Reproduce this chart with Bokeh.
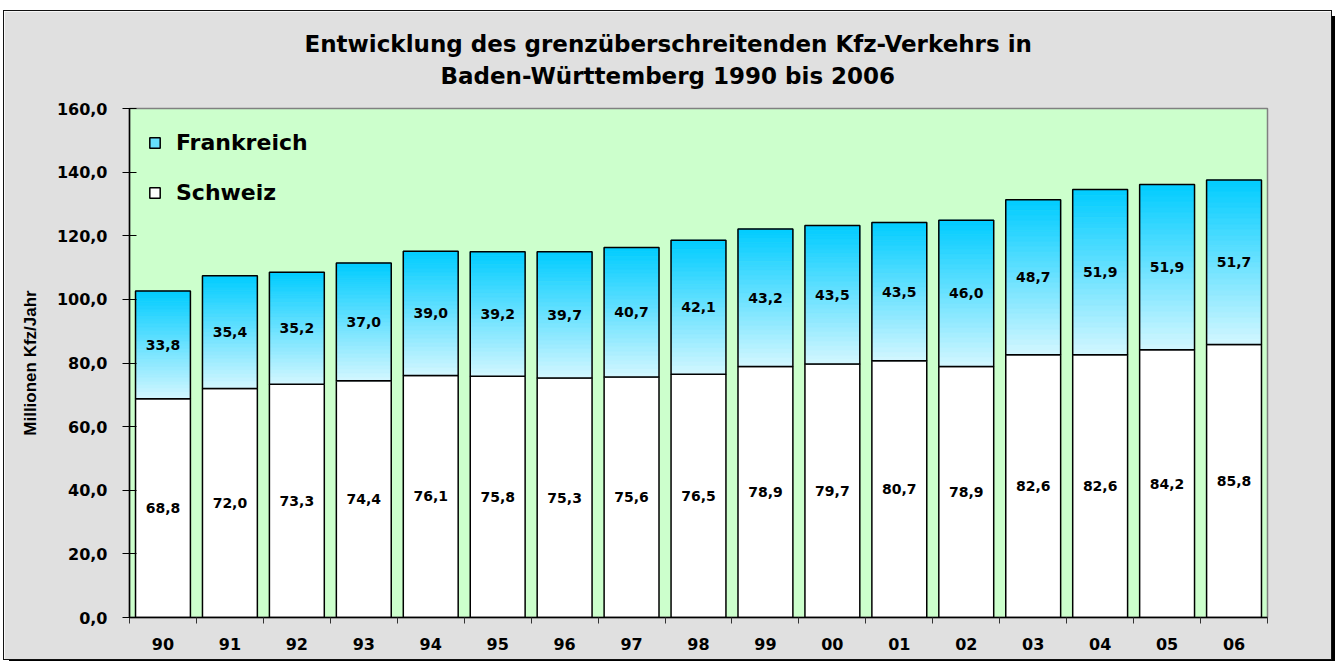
import numpy as np
from bokeh.plotting import figure
from bokeh.models import (ColumnDataSource, FixedTicker, Legend, LegendItem,
                          Title, Range1d)
from bokeh.core.properties import value
from bokeh.embed import file_html
from bokeh.resources import INLINE

# ---------------- data ----------------
years = ["90", "91", "92", "93", "94", "95", "96", "97", "98", "99",
         "00", "01", "02", "03", "04", "05", "06"]
schweiz = [68.8, 72.0, 73.3, 74.4, 76.1, 75.8, 75.3, 75.6, 76.5, 78.9,
           79.7, 80.7, 78.9, 82.6, 82.6, 84.2, 85.8]
frankreich = [33.8, 35.4, 35.2, 37.0, 39.0, 39.2, 39.7, 40.7, 42.1, 43.2,
              43.5, 43.5, 46.0, 48.7, 51.9, 51.9, 51.7]
y_ticks = [0, 20, 40, 60, 80, 100, 120, 140, 160]
y_tick_labels = ["0,0", "20,0", "40,0", "60,0", "80,0", "100,0",
                 "120,0", "140,0", "160,0"]
series_names = ["Frankreich", "Schweiz"]
title_lines = ["Entwicklung des grenzüberschreitenden Kfz-Verkehrs in",
               "Baden-Württemberg 1990 bis 2006"]
y_axis_label = "Millionen Kfz/Jahr"

# ---------------- styling ----------------
SPACED = "DejaVu Sans"
PLAIN = "Liberation Sans"
BAR_W = 0.82
TOP_C = np.array([0x00, 0xCC, 0xFF], dtype=float)
BOT_C = np.array([0xD4, 0xF7, 0xFF], dtype=float)
N_STRIPS = 30


def fmt(v):
    return f"{v:.1f}".replace(".", ",")


n = len(years)
xs = np.arange(n, dtype=float)
s = np.array(schweiz)
f = np.array(frankreich)

p = figure(frame_width=1138, frame_height=509,
           x_range=Range1d(-0.5, n - 0.5), y_range=Range1d(0, 160),
           output_backend="svg", toolbar_location=None,
           min_border_left=125, min_border_right=64,
           min_border_top=97, min_border_bottom=42,
           background_fill_color="#CCFFCC", border_fill_color="#E0E0E0")
p.title.visible = False
p.styles = {"margin": "11px 0 0 4px",
            "outline": "1.5px solid #111111",
            "box-shadow": "5px 5px 0 #000000"}

p.xgrid.visible = False
p.ygrid.visible = False
p.outline_line_color = "#808080"
p.outline_line_width = 1.5

# Schweiz bars (white)
src_s = ColumnDataSource(dict(left=xs - BAR_W / 2, right=xs + BAR_W / 2,
                              bottom=np.zeros(n), top=s))
r_s = p.quad(left="left", right="right", bottom="bottom", top="top",
             source=src_s, fill_color="white", line_color="black",
             line_width=1.5)

# Frankreich bars: vertical gradient built from thin strips
L, R, B, T, C = [], [], [], [], []
for i in range(n):
    for j in range(N_STRIPS):
        t = (j + 0.5) / N_STRIPS
        c = BOT_C + (TOP_C - BOT_C) * t
        L.append(xs[i] - BAR_W / 2)
        R.append(xs[i] + BAR_W / 2)
        B.append(s[i] + f[i] * j / N_STRIPS)
        T.append(s[i] + f[i] * (j + 1) / N_STRIPS)
        C.append("#%02x%02x%02x" % tuple(int(round(v)) for v in c))
src_g = ColumnDataSource(dict(left=L, right=R, bottom=B, top=T, color=C))
r_g = p.quad(left="left", right="right", bottom="bottom", top="top",
             source=src_g, fill_color="color", line_color="color",
             line_width=0.8)
src_f = ColumnDataSource(dict(left=xs - BAR_W / 2, right=xs + BAR_W / 2,
                              bottom=s, top=s + f))
r_f = p.quad(left="left", right="right", bottom="bottom", top="top",
             source=src_f, fill_color=None, line_color="black",
             line_width=1.5)

# value labels
lab_src = ColumnDataSource(dict(
    x=np.concatenate([xs, xs]),
    y=np.concatenate([s / 2, s + f / 2]),
    text=[fmt(v) for v in schweiz] + [fmt(v) for v in frankreich]))
p.text(x="x", y="y", text="text", source=lab_src, text_align="center",
       text_baseline="middle", text_font=value(SPACED),
       text_font_size="14px", text_font_style="bold", text_color="black")

# axes
p.xaxis.ticker = FixedTicker(ticks=list(xs),
                             minor_ticks=list(np.arange(n + 1) - 0.5))
p.xaxis.major_label_overrides = {int(i): years[int(i)] for i in xs}
p.xaxis.major_tick_in = 0
p.xaxis.major_tick_out = 0
p.xaxis.minor_tick_in = 0
p.xaxis.minor_tick_out = 6
p.xaxis.minor_tick_line_color = "#333333"
p.xaxis.major_label_standoff = 14
p.xaxis.major_label_text_font = SPACED
p.xaxis.major_label_text_font_size = "16px"
p.xaxis.major_label_text_font_style = "bold"
p.xaxis.major_label_text_color = "black"
p.xaxis.axis_line_color = "black"
p.xaxis.axis_line_width = 1.5

p.yaxis.ticker = FixedTicker(ticks=y_ticks, minor_ticks=[])
p.yaxis.major_label_overrides = dict(zip(y_ticks, y_tick_labels))
p.yaxis.major_tick_in = 7
p.yaxis.major_tick_out = 7
p.yaxis.major_tick_line_color = "black"
p.yaxis.minor_tick_line_color = None
p.yaxis.major_label_standoff = 15
p.yaxis.major_label_text_font = SPACED
p.yaxis.major_label_text_font_size = "16px"
p.yaxis.major_label_text_font_style = "bold"
p.yaxis.major_label_text_color = "black"
p.yaxis.axis_line_color = "black"
p.yaxis.axis_line_width = 1.5
p.yaxis.axis_label = y_axis_label
p.yaxis.axis_label_standoff = 14
p.yaxis.axis_label_text_font = PLAIN
p.yaxis.axis_label_text_font_size = "17px"
p.yaxis.axis_label_text_font_style = "bold"
p.yaxis.axis_label_text_color = "black"

# legend
legend = Legend(items=[
    LegendItem(label=series_names[0], renderers=[r_g, r_f], index=15),
    LegendItem(label=series_names[1], renderers=[r_s], index=0)],
    location="top_left", margin=0, padding=19, spacing=20,
    glyph_width=13, glyph_height=13, label_height=30, label_standoff=15,
    border_line_alpha=0, background_fill_alpha=0,
    label_text_font=SPACED, label_text_font_size="22px",
    label_text_font_style="bold", label_text_color="black")
p.add_layout(legend)

# title: two lines, centred over the canvas (offsets from the frame's left)
p.add_layout(Title(text=title_lines[1], align="left", offset=311,
                   vertical_align="top", standoff=36,
                   text_font=SPACED, text_font_size="23px",
                   text_font_style="bold", text_color="black"), "above")
p.add_layout(Title(text=title_lines[0], align="left", offset=175,
                   vertical_align="bottom", standoff=-24,
                   text_font=SPACED, text_font_size="23px",
                   text_font_style="bold", text_color="black"), "above")

open("out.html", "w").write(file_html(p, INLINE))
